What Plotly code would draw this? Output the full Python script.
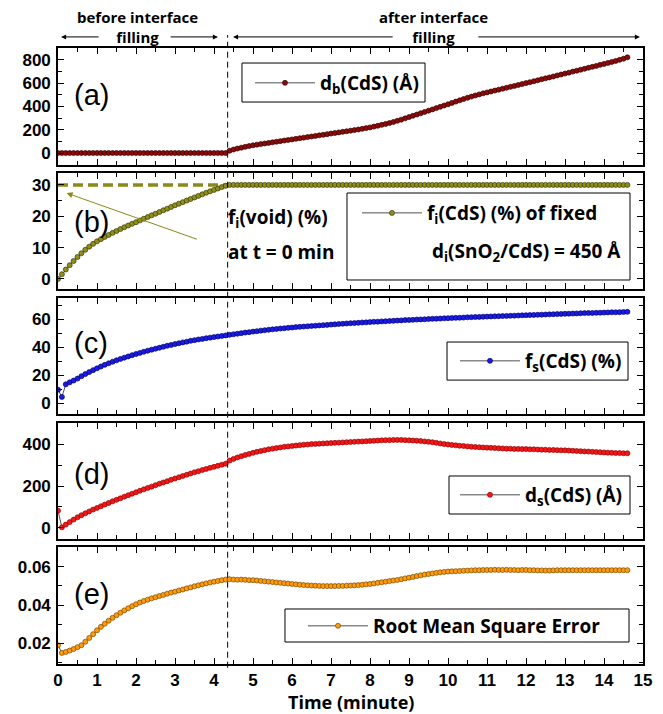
import plotly.graph_objects as go

# ---------------- data ----------------
time_min = [round(0.1 * i, 1) for i in range(147)]  # sampling grid 0.0 ... 14.6 min
interface_t = 4.35  # end of interface filling (min)

d_b_CdS = (
    [0] * 44
    + [20, 30, 38, 46, 53, 60]
    + [66, 72, 77, 82, 87, 92, 97, 102, 107, 112]
    + [117, 122, 127, 132, 137, 142, 147, 152, 157, 162]
    + [167, 172, 177, 182, 187, 192, 197, 202, 208, 214]
    + [220, 227, 234, 242, 250, 258, 267, 277, 287, 298]
    + [309, 320, 331, 342, 353, 364, 375, 386, 397, 408]
    + [419, 431, 442, 453, 464, 475, 485, 495, 504, 513]
    + [521, 529, 537, 545, 553, 561, 569, 577, 585, 593]
    + [601, 609, 617, 625, 634, 642, 650, 658, 667, 675]
    + [683, 691, 700, 708, 716, 724, 733, 741, 749, 758]
    + [766, 775, 783, 792, 801, 811, 823]
)

f_i_CdS = (
    [0, 1.5, 3.0, 4.4, 5.7, 7.0, 8.2, 9.3, 10.3, 11.2]
    + [12.0, 12.7, 13.4, 14.05, 14.7, 15.3, 15.9, 16.5, 17.05, 17.6]
    + [18.1, 18.65, 19.2, 19.75, 20.3, 20.8, 21.35, 21.9, 22.4, 22.95]
    + [23.5, 24.0, 24.5, 25.0, 25.5, 26.0, 26.5, 27.0, 27.5, 27.95]
    + [28.4, 28.85, 29.3, 29.7]
    + [30.0] * 103
)

void_line_t = [0.0, interface_t]
void_line_v = [30.0, 30.0]

f_s_CdS = (
    [9.8, 4.6, 13.6, 15.0, 16.3, 17.7, 19.4, 20.9, 22.3, 23.7]
    + [25.0, 26.3, 27.5, 28.6, 29.7, 30.7, 31.7, 32.6, 33.5, 34.4]
    + [35.2, 36.0, 36.8, 37.6, 38.3, 39.0, 39.7, 40.4, 41.1, 41.7]
    + [42.3, 42.9, 43.5, 44.0, 44.6, 45.1, 45.6, 46.0, 46.5, 46.9]
    + [47.3, 47.7, 48.1, 48.5, 48.9, 49.3, 49.7, 50.1, 50.5, 50.8]
    + [51.2, 51.5, 51.9, 52.2, 52.5, 52.8, 53.1, 53.4, 53.6, 53.9]
    + [54.1, 54.4, 54.6, 54.8, 55.0, 55.2, 55.4, 55.6, 55.8, 56.0]
    + [56.2, 56.4, 56.6, 56.8, 57.0, 57.2, 57.3, 57.5, 57.7, 57.8]
    + [58.0, 58.2, 58.3, 58.5, 58.6, 58.8, 58.9, 59.1, 59.2, 59.4]
    + [59.5, 59.6, 59.8, 59.9, 60.0, 60.2, 60.3, 60.4, 60.5, 60.7]
    + [60.8, 60.9, 61.0, 61.1, 61.2, 61.4, 61.5, 61.6, 61.7, 61.8]
    + [61.9, 62.0, 62.1, 62.2, 62.3, 62.4, 62.5, 62.6, 62.7, 62.8]
    + [62.9, 63.0, 63.1, 63.2, 63.3, 63.4, 63.5, 63.6, 63.7, 63.8]
    + [63.9, 64.0, 64.1, 64.2, 64.3, 64.4, 64.5, 64.5, 64.6, 64.7]
    + [64.8, 64.9, 65.0, 65.0, 65.1, 65.2, 65.3]
)

d_s_CdS = (
    [82, 2, 15, 27, 39, 50, 60, 69, 78, 87]
    + [95, 103, 111, 119, 127, 134, 141, 149, 156, 163]
    + [170, 177, 184, 191, 197, 204, 211, 217, 223, 230]
    + [236, 242, 248, 254, 260, 266, 271, 277, 282, 287]
    + [292, 297, 302, 307, 322, 330, 337, 343, 349, 354]
    + [359, 364, 368, 372, 376, 379, 382, 385, 388, 390]
    + [392, 394, 396, 398, 399, 401, 402, 403, 404, 405]
    + [406, 407, 408, 409, 410, 411, 412, 413, 414, 415]
    + [416, 417, 418, 419, 420, 420, 421, 421, 421, 420]
    + [419, 418, 417, 416, 414, 412, 410, 407, 404, 401]
    + [399, 397, 395, 393, 392, 390, 388, 387, 386, 385]
    + [384, 383, 382, 381, 380, 379, 379, 378, 378, 377]
    + [377, 376, 376, 375, 374, 374, 373, 373, 372, 371]
    + [371, 370, 369, 368, 367, 366, 365, 364, 363, 362]
    + [361, 360, 359, 358, 358, 357, 357]
)

rmse = (
    [0.0190, 0.0150, 0.0155, 0.0162, 0.0170, 0.0180, 0.0190, 0.0208, 0.0228, 0.0248]
    + [0.0268, 0.0286, 0.0302, 0.0318, 0.0333, 0.0347, 0.0360, 0.0372, 0.0383, 0.0394]
    + [0.0404, 0.0413, 0.0421, 0.0428, 0.0435, 0.0441, 0.0447, 0.0453, 0.0459, 0.0465]
    + [0.0470, 0.0476, 0.0481, 0.0487, 0.0492, 0.0498, 0.0503, 0.0508, 0.0513, 0.0518]
    + [0.0522, 0.0526, 0.0530, 0.0533, 0.0535, 0.0533, 0.0532, 0.0533, 0.0532, 0.0530]
    + [0.0530, 0.0528, 0.0526, 0.0524, 0.0522, 0.0520, 0.0518, 0.0516, 0.0514, 0.0512]
    + [0.0510, 0.0508, 0.0506, 0.0504, 0.0503, 0.0502, 0.0501, 0.0500, 0.0499, 0.0499]
    + [0.0499, 0.0499, 0.0500, 0.0500, 0.0501, 0.0502, 0.0503, 0.0504, 0.0506, 0.0508]
    + [0.0510, 0.0513, 0.0516, 0.0519, 0.0522, 0.0525, 0.0528, 0.0531, 0.0535, 0.0539]
    + [0.0543, 0.0547, 0.0551, 0.0555, 0.0559, 0.0562, 0.0565, 0.0568, 0.0571, 0.0573]
    + [0.0575, 0.0576, 0.0577, 0.0578, 0.0579, 0.0580, 0.0581, 0.0582, 0.0582, 0.0583]
    + [0.0583, 0.0583, 0.0584, 0.0583, 0.0583, 0.0584, 0.0583, 0.0583, 0.0582, 0.0583]
    + [0.0583, 0.0582, 0.0582, 0.0581, 0.0581, 0.0580, 0.0580, 0.0581, 0.0582, 0.0582]
    + [0.0582, 0.0582, 0.0582, 0.0582, 0.0582, 0.0582, 0.0582, 0.0582, 0.0582, 0.0582]
    + [0.0582, 0.0582, 0.0582, 0.0582, 0.0582, 0.0582, 0.0582]
)

# ---------------- styling ----------------
TXT = "Open Sans"
NUM = "Arial, Liberation Sans, sans-serif"


def series(y, fill, edge, xa, ya, name, legend):
    return go.Scatter(
        x=time_min, y=y, mode="lines+markers", name=name, legend=legend,
        xaxis=xa, yaxis=ya,
        line=dict(color="#222222", width=0.8),
        marker=dict(symbol="circle", size=5, color=fill, line=dict(color=edge, width=0.7)),
    )


fig = go.Figure()
fig.add_trace(series(d_b_CdS, "#8b0a0a", "#3a0000", "x", "y", "d<sub>b</sub>(CdS) (Å)", "legend"))
fig.add_trace(go.Scatter(x=void_line_t, y=void_line_v, mode="lines", xaxis="x2", yaxis="y2",
                         showlegend=False, line=dict(color="#8a8a18", width=3.5, dash="10px,5px")))
fig.add_trace(series(f_i_CdS, "#8f8f1e", "#3a3a00", "x2", "y2", "f<sub>i</sub>(CdS) (%) of fixed", "legend2"))
fig.add_trace(series(f_s_CdS, "#1c1ce0", "#00007a", "x3", "y3", "f<sub>s</sub>(CdS) (%)", "legend3"))
fig.add_trace(series(d_s_CdS, "#f01818", "#9a0000", "x4", "y4", "d<sub>s</sub>(CdS) (Å)", "legend4"))
fig.add_trace(series(rmse, "#ff9a0a", "#7a4a00", "x5", "y5", "Root Mean Square Error", "legend5"))

y_domains = [[0.8101, 1.0], [0.6088, 0.7971], [0.4058, 0.5942], [0.2029, 0.3912], [0.0, 0.1899]]
y_ranges = [[-103, 903], [-3.2, 33.8], [-7.6, 75.2], [-54, 502], [0.0092, 0.0703]]
y_dticks = [200, 10, 20, 200, 0.02]
y_minor = [100, 5, 10, 100, 0.01]

# the page body adds an 8 px offset, so the figure is laid out 8 px up/left
layout = dict(
    width=655, height=706,
    margin=dict(l=50, r=20, t=40, b=50, autoexpand=False),
    paper_bgcolor="white", plot_bgcolor="white",
    font=dict(family=TXT, color="black"),
)

for i in range(5):
    sfx = "" if i == 0 else str(i + 1)
    layout["xaxis" + sfx] = dict(
        domain=[0, 1], anchor="y" + sfx, range=[0, 15], tick0=0, dtick=1, automargin=False,
        showticklabels=(i == 4), ticks="inside", ticklen=6, tickwidth=1.3, tickcolor="black",
        showline=True, linecolor="black", linewidth=1.6, mirror="allticks",
        showgrid=False, zeroline=False, ticklabelstandoff=0,
        tickfont=dict(family=NUM, size=17, weight="bold", color="black"),
        minor=dict(tick0=0, dtick=0.5, ticks="inside", ticklen=4, tickwidth=1.2, tickcolor="black", showgrid=False),
    )
    layout["yaxis" + sfx] = dict(
        domain=y_domains[i], anchor="x" + sfx, range=y_ranges[i], tick0=0, dtick=y_dticks[i], automargin=False,
        ticks="inside", ticklen=6, tickwidth=1.3, tickcolor="black",
        showline=True, linecolor="black", linewidth=1.6, mirror="allticks",
        showgrid=False, zeroline=False, ticklabelstandoff=2,
        tickformat=".2f" if i == 4 else "d",
        tickfont=dict(family=NUM, size=17, weight="bold", color="black"),
        minor=dict(tick0=0, dtick=y_minor[i], ticks="inside", ticklen=4, tickwidth=1.2, tickcolor="black", showgrid=False),
    )

leg_font = dict(family=TXT, size=19, weight="bold", color="black")


def legend_at(x, y):
    return dict(x=x, y=y, xref="paper", yref="paper", xanchor="left", yanchor="middle",
                borderwidth=0, bgcolor="rgba(0,0,0,0)", font=leg_font,
                orientation="h", itemwidth=60)


layout["legend"] = legend_at(0.3282, 0.9432)
layout["legend2"] = legend_at(0.5111, 0.7321)
layout["legend3"] = legend_at(0.6786, 0.4919)
layout["legend4"] = legend_at(0.6786, 0.2744)
layout["legend5"] = legend_at(0.4188, 0.0617)

fig.update_layout(**layout)

# dashed separator between the two stages
fig.add_shape(type="line", xref="x", yref="paper", x0=interface_t, x1=interface_t, y0=-0.006, y1=1.021,
              line=dict(color="black", width=1, dash="6px,4px"))
# legend frames
for (bx0, bx1, by0, by1) in [
    (0.3145, 0.6274, 0.9123, 0.9756),
    (0.4940, 0.9778, 0.6234, 0.7646),
    (0.6650, 0.9744, 0.4609, 0.5227),
    (0.6684, 0.9778, 0.2435, 0.3052),
    (0.3880, 0.9761, 0.0357, 0.0893),
]:
    fig.add_shape(type="rect", xref="paper", yref="paper", x0=bx0, x1=bx1, y0=by0, y1=by1,
                  line=dict(color="black", width=1), layer="below", fillcolor="white")

ann = []
for lab, yy in zip(["(a)", "(b)", "(c)", "(d)", "(e)"], [0.9237, 0.7175, 0.5211, 0.3084, 0.1136]):
    ann.append(dict(text=lab, x=0.024, y=yy, xref="paper", yref="paper", xanchor="left", yanchor="middle",
                    showarrow=False, font=dict(family=NUM, size=29, color="black")))

# x axis title
ann.append(dict(text="Time (minute)", x=0.5, y=-0.0615, xref="paper", yref="paper",
                xanchor="center", yanchor="middle", showarrow=False, borderpad=0,
                font=dict(family=TXT, size=18, weight="bold", color="black")))

hdr_font = dict(family=TXT, size=15, weight="bold", color="black")
ann.append(dict(text="before interface<br>filling", x=2.03, y=1.034, xref="x", yref="paper",
                xanchor="center", yanchor="middle", showarrow=False, font=hdr_font))
ann.append(dict(text="after interface<br>filling", x=9.62, y=1.034, xref="x", yref="paper",
                xanchor="center", yanchor="middle", showarrow=False, font=hdr_font))
for head, tail in [(0.08, 1.08), (4.10, 2.85), (4.49, 8.62), (14.92, 10.74)]:
    ann.append(dict(text="", x=head, y=1.018, xref="x", yref="paper", ax=tail, ay=0, axref="x", ayref="pixel",
                    showarrow=True, arrowhead=2, arrowsize=1, arrowwidth=1, arrowcolor="black"))

ann.append(dict(text="f<sub>i</sub>(void) (%)", x=0.2872, y=0.724, xref="paper", yref="paper",
                xanchor="left", yanchor="middle", showarrow=False, font=leg_font))
ann.append(dict(text="at t = 0 min", x=0.2872, y=0.6688, xref="paper", yref="paper",
                xanchor="left", yanchor="middle", showarrow=False, font=leg_font))
ann.append(dict(text="d<sub>i</sub>(SnO<sub>2</sub>/CdS) = 450 Å", x=0.9658, y=0.6688, xref="paper", yref="paper",
                xanchor="right", yanchor="middle", showarrow=False, font=leg_font))
# arrow pointing to the void fraction level
ann.append(dict(text="", x=0.22, y=27.4, xref="x2", yref="y2", ax=3.6, ay=12.5, axref="x2", ayref="y2",
                showarrow=True, arrowhead=2, arrowsize=1.2, arrowwidth=1, arrowcolor="#8a8a18"))

fig.update_layout(annotations=ann)
fig.write_html("out.html")
